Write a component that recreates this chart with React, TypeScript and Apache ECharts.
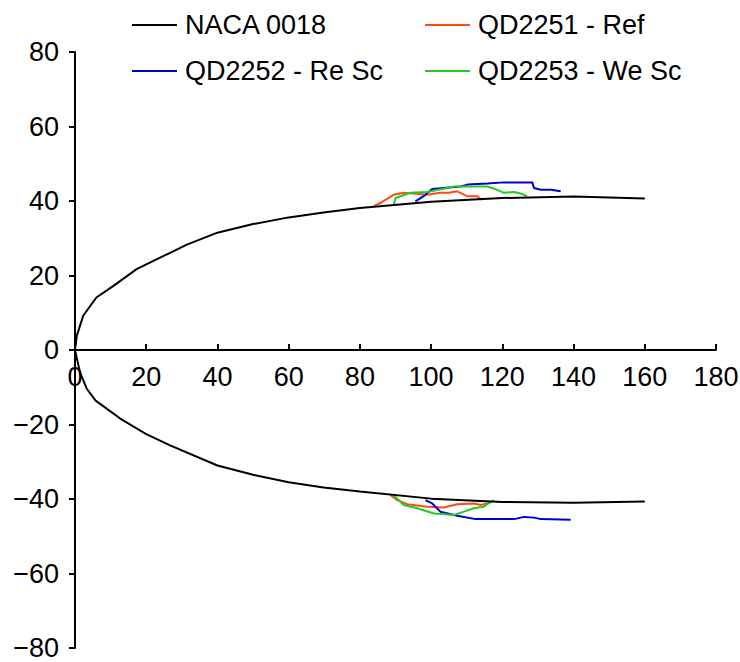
import React, { useEffect, useRef } from "react";
import * as echarts from "echarts";

// NACA 0018 contour (upper surface from trailing edge to nose, then lower surface)
const nacaUpper: number[][] = [
  [160, 40.7], [140, 41.2], [120, 40.8], [100, 39.8], [80, 38.1], [69.8, 36.9], [60, 35.6],
  [50, 33.8], [40, 31.5], [31.4, 28.3], [26.7, 26.1], [20, 23], [17.3, 21.7],
  [10.8, 17.2], [6, 14.1], [2.3, 9.2], [0.5, 3.8], [0, 0],
];
const nacaLower: number[][] = [
  [0, 0], [1.4, -6], [3.3, -10.4], [5.8, -13.6], [12.7, -18.4], [20, -22.6], [26.7, -25.6],
  [40, -31], [50, -33.5], [60, -35.5], [69.8, -36.9], [80, -38], [100, -39.9], [120, -40.8],
  [140, -41], [160, -40.7],
];

const refUpper: number[][] = [
  [83.9, 38.6], [86, 39.6], [89.5, 41.7], [92.3, 42.2], [95, 42], [98.9, 41.7], [102.6, 42.2],
  [105, 42.2], [107.3, 42.6], [110.1, 41.3], [113, 41.3], [113.9, 40.5], [115, 40.6],
];
const refLower: number[][] = [
  [88.6, -39], [90.5, -40.3], [93.3, -41.4], [98.9, -42.1], [103.6, -42.3], [107.3, -41.4],
  [112, -41.2], [113.9, -41.6], [115.8, -41.2], [117.2, -40.7],
];
const reScUpper: number[][] = [
  [95.6, 39.9], [97.9, 41.3], [100.3, 43.2], [103.6, 43.5], [108.3, 43.9], [110.2, 44.4],
  [115.8, 44.7], [120.4, 45], [128.4, 45], [128.9, 43.5], [130.8, 43], [133.6, 43], [136.4, 42.6],
];
const reScLower: number[][] = [
  [98.4, -40.3], [100.3, -41.2], [102.6, -43.4], [107.3, -44.5], [112.5, -45.4], [117.6, -45.4],
  [123.3, -45.4], [126.1, -44.8], [128.9, -45], [130.8, -45.4], [139.2, -45.6],
];
const weScUpper: number[][] = [
  [89.5, 39], [90, 40.8], [94.2, 42.2], [98.9, 42.4], [104.5, 43.5], [106.4, 43.9], [111.1, 43.9],
  [115.8, 43.9], [118.6, 43], [120.4, 42.2], [123.3, 42.4], [125.1, 42], [127, 41.3],
];
const weScLower: number[][] = [
  [89.5, -39], [92.3, -41.6], [96.1, -42.5], [100.8, -43.9], [106.4, -44.3], [109.2, -43.4],
  [112, -42.5], [114.8, -42.1], [116.7, -40.7], [117.6, -40.3],
];

const seriesNames = ["NACA 0018", "QD2251 - Ref", "QD2252 - Re Sc", "QD2253 - We Sc"];
const seriesColors = ["#000000", "#FF4A12", "#0000CC", "#22CC22"];

const FONT = "'Liberation Sans', Arial, sans-serif";
const GRID_TOP = 52;
const GRID_BOTTOM = 14;
const HEIGHT = 662;

export default function App() {
  const ref = useRef<HTMLDivElement>(null);
  useEffect(() => {
    document.body.style.margin = "0";
    const chart = echarts.init(ref.current!, null, { renderer: "svg" });
    const line = (name: string, color: string, data: number[][], z = 2) => ({
      type: "line",
      name,
      data,
      showSymbol: false,
      symbol: "none",
      color,
      z,
      lineStyle: { color, width: 2 },
    });
    const legendCommon = {
      orient: "vertical",
      top: 5,
      icon: "rect",
      itemWidth: 45,
      itemHeight: 2,
      itemGap: 16,
      textStyle: { fontSize: 27, fontFamily: FONT, color: "#000", lineHeight: 30, padding: [0, 0, 0, 3] },
    };
    const gridH = HEIGHT - GRID_TOP - GRID_BOTTOM;
    chart.setOption({
      animation: false,
      textStyle: { fontFamily: FONT },
      legend: [
        { ...legendCommon, left: 127, data: [seriesNames[0], seriesNames[2]] },
        { ...legendCommon, left: 420, data: [seriesNames[1], seriesNames[3]] },
      ],
      grid: {
        left: 75,
        right: 24,
        top: GRID_TOP,
        bottom: GRID_BOTTOM,
        containLabel: false,
        outerBoundsMode: "none",
      },
      xAxis: {
        type: "value",
        position: "bottom",
        offset: -gridH / 2,
        min: 0,
        max: 180,
        interval: 20,
        axisLine: { onZero: false, lineStyle: { color: "#000", width: 2 } },
        axisTick: { inside: true, length: 6, lineStyle: { color: "#000", width: 2 } },
        axisLabel: { fontSize: 27, fontFamily: FONT, color: "#000", margin: 13 },
        splitLine: { show: false },
      },
      yAxis: {
        type: "value",
        min: -80,
        max: 80,
        interval: 20,
        axisLine: { show: true, onZero: false, lineStyle: { color: "#000", width: 2 } },
        axisTick: { show: true, inside: false, length: 6, lineStyle: { color: "#000", width: 2 } },
        axisLabel: {
          fontSize: 27,
          fontFamily: FONT,
          color: "#000",
          margin: 16,
          formatter: (v: number) => (v < 0 ? "\u2212" + Math.abs(v) : String(v)),
        },
        splitLine: { show: false },
      },
      series: [
        line(seriesNames[0], seriesColors[0], [...nacaUpper, ...nacaLower], 3),
        line(seriesNames[1], seriesColors[1], refUpper),
        line(seriesNames[1], seriesColors[1], refLower),
        line(seriesNames[2], seriesColors[2], reScUpper),
        line(seriesNames[2], seriesColors[2], reScLower),
        line(seriesNames[3], seriesColors[3], weScUpper),
        line(seriesNames[3], seriesColors[3], weScLower),
      ],
    });
    return () => chart.dispose();
  }, []);
  return <div ref={ref} style={{ width: 740, height: 662 }} />;
}
